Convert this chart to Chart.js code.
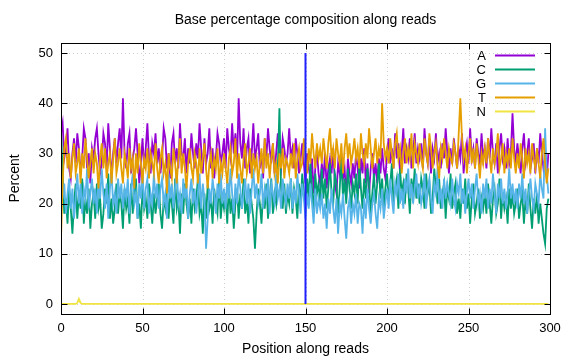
<!DOCTYPE html>
<html><head><meta charset="utf-8">
<script src="https://cdn.jsdelivr.net/npm/chart.js@4/dist/chart.umd.min.js"></script>
<style>html,body{margin:0;padding:0;background:#fff}canvas{display:block}</style>
</head><body>
<canvas id="c" width="576" height="360"></canvas>
<script>
const titleText = "Base percentage composition along reads";
const xTitle = "Position along reads";
const yTitle = "Percent";
const seriesNames = ["A","C","G","T","N"];
const seriesColors = ["#9400d3","#009e73","#56b4e9","#e69f00","#f0e442"];
const xTickStep = 50;
const yTickStep = 10;
const markerPos = 150;
const markerSpan = [0, 50];

const A = [
34,36,29,31,35,27,25,30,33,28,34,31,26,29,35,33,27,30,24,31,
29,33,35,30,26,28,34,32,27,36,31,25,30,33,28,32,35,29,41,30,
27,32,34,26,29,31,35,30,24,28,33,27,31,36,29,26,32,30,34,28,
31,26,29,35,33,27,30,25,32,34,28,31,27,36,30,29,33,26,31,28,
34,30,27,32,29,36,31,26,33,28,30,35,27,31,25,29,34,32,28,30,
33,27,35,31,29,36,30,34,28,41,32,29,35,27,31,33,26,30,36,29,
31,34,27,30,25,33,29,35,31,28,32,26,30,34,29,27,33,31,28,30,
35,29,31,27,33,30,26,29,32,28,24,30,27,25,29,22,27,31,26,24,
28,25,30,23,27,29,26,31,24,22,28,26,30,25,27,21,29,26,24,28,
25,30,27,23,29,26,31,24,28,22,27,30,25,28,24,29,26,31,27,25,
30,33,28,31,27,34,29,32,26,30,35,28,31,29,33,27,30,34,28,31,
29,32,27,35,30,28,33,26,31,29,34,28,30,27,32,29,35,30,26,31,
28,33,30,27,31,29,34,26,30,32,28,35,29,31,27,33,30,28,34,29,
31,27,33,29,35,30,28,32,26,31,34,29,31,27,33,28,30,38,31,28,
32,29,26,31,34,28,30,33,27,29,32,26,31,28,34,30,27,29,25,30];
const C = [
35,26,18,21,16,23,19,14,20,24,17,22,19,25,16,21,18,23,15,20,
22,17,24,19,21,15,18,23,20,26,17,21,16,19,24,18,22,20,15,23,
19,21,16,24,18,22,25,17,20,15,23,19,21,17,24,20,16,22,18,21,
24,18,15,21,19,23,17,22,20,16,25,19,21,14,22,18,24,20,17,21,
16,23,19,21,25,18,20,14,22,17,24,19,21,16,23,20,18,25,17,21,
19,22,16,24,18,21,15,20,23,17,22,19,25,18,21,16,23,20,17,11,
18,23,20,16,22,19,24,17,21,25,18,22,20,27,39,23,19,24,18,22,
20,25,18,23,21,17,24,20,26,22,19,25,21,28,23,18,26,22,24,20,
27,21,25,19,23,28,22,20,26,24,18,23,29,21,25,20,27,23,19,24,
22,26,20,28,23,19,25,21,27,24,18,22,26,20,24,28,21,25,19,23,
26,21,24,28,20,23,25,19,27,22,24,20,26,23,18,25,22,27,21,24,
20,25,23,19,26,22,24,18,21,27,23,20,25,19,22,24,17,23,21,26,
19,22,24,18,21,17,23,20,25,19,22,16,21,24,18,20,23,17,21,19,
22,18,24,20,16,21,23,18,20,25,17,22,19,21,16,23,19,22,18,20,
23,17,20,22,16,21,18,24,19,15,21,18,22,16,20,17,14,12,19,21];
const G = [
26,21,24,18,22,25,19,23,17,21,26,20,24,18,23,21,27,19,22,25,
20,23,18,25,21,27,22,19,24,17,23,26,20,22,18,25,21,24,19,23,
21,25,18,23,26,20,22,17,24,21,27,19,23,25,18,22,20,26,21,24,
19,23,25,20,22,17,26,21,24,19,23,27,20,22,18,25,21,24,17,22,
25,20,23,18,22,26,19,24,21,11,17,23,20,25,22,18,24,21,26,20,
23,19,25,21,27,22,18,24,20,26,23,19,22,25,20,24,18,23,27,21,
24,20,22,26,19,23,21,25,18,24,22,20,26,21,23,19,25,22,20,24,
21,25,19,23,20,26,22,18,24,21,17,22,19,24,20,16,23,18,21,19,
22,17,20,15,21,18,23,19,16,21,14,20,18,22,17,13,19,21,16,20,
18,22,16,20,19,14,21,17,23,19,16,20,22,18,15,21,19,23,17,20,
23,19,25,21,18,24,22,26,20,23,19,25,22,27,21,24,20,23,26,21,
24,20,22,26,19,23,25,21,18,24,22,27,20,23,19,25,21,24,22,20,
25,21,19,24,22,26,20,23,18,22,25,21,24,19,23,26,20,22,18,24,
21,25,19,23,20,26,22,18,24,21,25,20,23,19,22,27,21,24,20,23,
19,24,21,26,20,23,18,22,25,21,19,24,22,20,26,23,21,35,26,22];
const T = [
13,24,31,33,27,30,25,29,32,26,28,31,24,30,27,33,29,25,28,31,
26,30,28,23,29,32,27,31,25,28,30,24,29,33,26,28,31,27,24,30,
28,25,31,27,29,23,30,26,32,28,24,29,27,31,25,30,28,26,32,27,
24,29,31,26,28,22,30,27,25,31,28,24,29,33,26,30,27,23,28,31,
27,25,30,28,24,31,26,29,32,27,23,28,30,25,29,27,31,24,28,26,
30,27,24,29,31,26,28,33,25,30,27,24,29,32,26,28,31,25,30,27,
29,24,28,31,26,33,27,30,25,29,32,26,28,24,30,27,31,25,29,28,
26,30,27,32,25,29,31,27,28,33,29,26,31,28,34,30,27,32,29,31,
28,33,30,27,32,35,29,31,27,33,30,28,32,26,31,34,29,32,28,30,
33,29,31,27,34,30,28,32,29,35,31,27,30,33,28,31,29,40,32,29,
31,28,33,30,27,32,34,29,31,26,30,33,28,31,29,34,27,32,30,28,
32,29,27,33,30,28,34,31,27,30,32,28,25,31,29,33,30,27,31,29,
28,32,30,27,34,41,33,29,31,26,30,33,28,31,27,32,29,25,30,28,
31,28,33,29,26,31,28,30,34,27,29,32,26,30,28,31,27,33,29,26,
30,27,32,29,25,31,28,30,26,32,29,27,31,28,25,30,33,28,24,27];
const N = [
0,0,0,0,0,0,0,0,0,0,0.2,1,0.2,0,0,0,0,0,0,0,
0,0,0,0,0,0,0,0,0,0,0,0,0,0,0,0,0,0,0,0,
0,0,0,0,0,0,0,0,0,0,0,0,0,0,0,0,0,0,0,0,
0,0,0,0,0,0,0,0,0,0,0,0,0,0,0,0,0,0,0,0,
0,0,0,0,0,0,0,0,0,0,0,0,0,0,0,0,0,0,0,0,
0,0,0,0,0,0,0,0,0,0,0,0,0,0,0,0,0,0,0,0,
0,0,0,0,0,0,0,0,0,0,0,0,0,0,0,0,0,0,0,0,
0,0,0,0,0,0,0,0,0,0,0,0,0,0,0,0,0,0,0,0,
0,0,0,0,0,0,0,0,0,0,0,0,0,0,0,0,0,0,0,0,
0,0,0,0,0,0,0,0,0,0,0,0,0,0,0,0,0,0,0,0,
0,0,0,0,0,0,0,0,0,0,0,0,0,0,0,0,0,0,0,0,
0,0,0,0,0,0,0,0,0,0,0,0,0,0,0,0,0,0,0,0,
0,0,0,0,0,0,0,0,0,0,0,0,0,0,0,0,0,0,0,0,
0,0,0,0,0,0,0,0,0,0,0,0,0,0,0,0,0,0,0,0,
0,0,0,0,0,0,0,0,0,0,0,0,0,0,0,0,0,0,0,0];
const positions = A.map((_, i) => i);
const seriesValues = [A, C, G, T, N];

const FONT = "'Liberation Sans', Arial, sans-serif";

const datasets = seriesValues.map((vals, k) => ({
  label: seriesNames[k],
  data: vals.map((v, i) => ({x: positions[i], y: v})),
  borderColor: seriesColors[k],
  backgroundColor: seriesColors[k],
  borderWidth: 1.8,
  pointRadius: 0,
  tension: 0,
  fill: false,
  order: 10 - k
}));
datasets.push({
  label: "_marker",
  data: markerSpan.map(v => ({x: markerPos, y: v})),
  borderColor: "#1f1fff",
  borderWidth: 2,
  pointRadius: 0,
  fill: false,
  order: -1
});

const decor = {
  id: 'decor',
  beforeDatasetsDraw(chart) {
    const {ctx, chartArea: a, scales: {x, y}} = chart;
    ctx.save();
    ctx.strokeStyle = "#cfcfcf";
    ctx.lineWidth = 1;
    ctx.setLineDash([1, 3]);
    x.ticks.forEach(t => {
      const px = Math.round(x.getPixelForValue(t.value)) + 0.5;
      if (px <= a.left + 1 || px >= a.right - 1) return;
      ctx.beginPath(); ctx.moveTo(px, a.top); ctx.lineTo(px, a.bottom); ctx.stroke();
    });
    y.ticks.forEach(t => {
      const py = Math.round(y.getPixelForValue(t.value)) + 0.5;
      if (py <= a.top + 1 || py >= a.bottom - 1) return;
      ctx.beginPath(); ctx.moveTo(a.left, py); ctx.lineTo(a.right, py); ctx.stroke();
    });
    ctx.restore();
  },
  afterDatasetsDraw(chart) {
    const {ctx, chartArea: a, scales: {x, y}} = chart;
    ctx.save();
    ctx.setLineDash([]);
    ctx.strokeStyle = "#000";
    ctx.lineWidth = 1;
    const L = Math.round(a.left) + 0.5, R = Math.round(a.right) + 0.5;
    const Tp = Math.round(a.top) + 0.5, B = Math.round(a.bottom) + 0.5;
    ctx.strokeRect(L, Tp, R - L, B - Tp);
    const tl = 6;
    ctx.beginPath();
    x.ticks.forEach(t => {
      const px = Math.round(x.getPixelForValue(t.value)) + 0.5;
      ctx.moveTo(px, B); ctx.lineTo(px, B - tl);
      ctx.moveTo(px, Tp); ctx.lineTo(px, Tp + tl);
    });
    y.ticks.forEach(t => {
      const py = Math.round(y.getPixelForValue(t.value)) + 0.5;
      ctx.moveTo(L, py); ctx.lineTo(L + tl, py);
      ctx.moveTo(R, py); ctx.lineTo(R - tl, py);
    });
    ctx.stroke();
    // key
    ctx.font = "13px " + FONT;
    ctx.textAlign = "right";
    ctx.textBaseline = "middle";
    const keyRight = a.right - 64;
    chart.data.datasets.forEach((ds, k) => {
      if (ds.label.startsWith("_")) return;
      const ry = a.top + 12 + k * 14;
      ctx.fillStyle = "#000";
      ctx.fillText(ds.label, keyRight, ry + 1);
      ctx.strokeStyle = ds.borderColor;
      ctx.lineWidth = 2;
      ctx.beginPath();
      ctx.moveTo(keyRight + 9, ry + 0.5); ctx.lineTo(keyRight + 49, ry + 0.5);
      ctx.stroke();
    });
    // titles
    ctx.fillStyle = "#000";
    ctx.textAlign = "center";
    ctx.font = "14px " + FONT;
    ctx.fillText(titleText, (a.left + a.right) / 2, 20);
    ctx.fillText(xTitle, (a.left + a.right) / 2, 349);
    ctx.translate(15, (a.top + a.bottom) / 2);
    ctx.rotate(-Math.PI / 2);
    ctx.fillText(yTitle, 0, 0);
    ctx.restore();
  }
};

new Chart(document.getElementById('c'), {
  type: 'line',
  data: { datasets },
  plugins: [decor],
  options: {
    responsive: false,
    devicePixelRatio: 1,
    animation: false,
    events: [],
    layout: { padding: { left: 0, right: 26, top: 43, bottom: 0 } },
    plugins: { legend: { display: false }, title: { display: false }, tooltip: { enabled: false } },
    scales: {
      x: {
        type: 'linear', min: 0, max: 300,
        grid: { display: false, drawTicks: false },
        border: { display: false },
        ticks: { stepSize: xTickStep, includeBounds: false, padding: 7, color: "#000", font: { family: FONT, size: 13 }, maxRotation: 0 },
        afterFit(s) { s.height = 46; }
      },
      y: {
        type: 'linear', min: -2, max: 52,
        grid: { display: false, drawTicks: false },
        border: { display: false },
        ticks: { stepSize: yTickStep, includeBounds: false, padding: 8, color: "#000", font: { family: FONT, size: 13 } },
        afterFit(s) { s.width = 61; }
      }
    }
  }
});
</script>
</body></html>
